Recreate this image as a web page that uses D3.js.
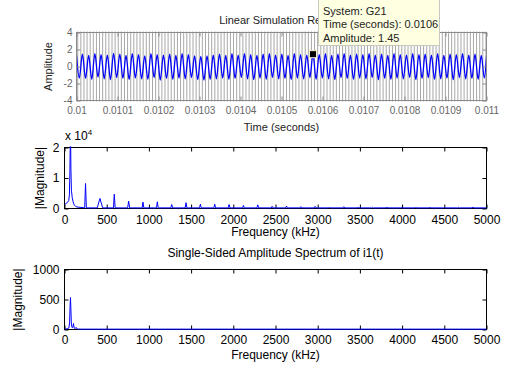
<!DOCTYPE html>
<html>
<head>
<meta charset="utf-8">
<script src="https://cdn.jsdelivr.net/npm/d3@7"></script>
<style>
  body { margin: 0; background: #fff; }
  svg { display: block; }
  text { font-family: "Liberation Sans", Arial, Helvetica, sans-serif; }
</style>
</head>
<body>
<script>
// ---- top panel: lsim response (time in s, input edges in µs after 0.01 s)
const timeTicks = [0.01, 0.0101, 0.0102, 0.0103, 0.0104, 0.0105, 0.0106, 0.0107, 0.0108, 0.0109, 0.011];
const ampTicks = [-4, -2, 0, 2, 4];

const inputEdgesUs = [
  3.0, 10.6, 18.2, 25.8, 33.4, 41.0, 48.6, 56.2, 63.8, 71.4, 79.0, 86.6, 94.2, 101.8, 109.4, 117.0,
  124.6, 132.2, 139.8, 147.4, 155.0, 162.6, 170.2, 177.8, 185.4, 193.0, 200.6, 208.2, 215.8, 223.4,
  231.0, 238.6, 246.2, 253.8, 261.4, 269.0, 276.6, 284.2, 291.8, 299.4, 307.0, 314.6, 322.2, 329.8,
  337.4, 345.0, 352.6, 360.2, 367.8, 375.4, 383.0, 390.6, 398.2, 405.8, 413.4, 421.0, 428.6, 436.2,
  443.8, 451.4, 459.0, 466.6, 474.2, 481.8, 489.4, 497.0, 504.6, 512.2, 519.8, 527.4, 535.0, 542.6,
  550.2, 557.8, 565.4, 573.0, 580.6, 588.2, 595.8, 603.4, 611.0, 618.6, 626.2, 633.8, 641.4, 649.0,
  656.6, 664.2, 671.8, 679.4, 687.0, 694.6, 702.2, 709.8, 717.4, 725.0, 732.6, 740.2, 747.8, 755.4,
  763.0, 770.6, 778.2, 785.8, 793.4, 801.0, 808.6, 816.2, 823.8, 831.4, 839.0, 846.6, 854.2, 861.8,
  869.4, 877.0, 884.6, 892.2, 899.8, 907.4, 915.0, 922.6, 930.2, 937.8, 945.4, 953.0, 960.6, 968.2,
  975.8, 983.4, 991.0, 998.6
];
const inputLevel = 20; // square wave swings far outside the axes

// peak / trough of the output between consecutive input edges
const outputSwing = [
  -1.35, 1.45, -1.40, 1.30, -1.50, 1.50, -1.25, 1.40, -1.45, 1.35,
  -1.55, 1.55, -1.30, 1.45, -1.40, 1.30, -1.55, 1.50, -1.35, 1.40,
  -1.45, 1.25, -1.50, 1.50, -1.30, 1.40, -1.60, 1.35, -1.40, 1.45,
  -1.50, 1.30, -1.35, 1.50, -1.45, 1.40, -1.30, 1.25, -1.55, 1.20,
  -1.60, 1.25, -1.50, 1.35, -1.45, 1.45, -1.35, 1.30, -1.50, 1.50,
  -1.40, 1.35, -1.30, 1.50, -1.45, 1.40, -1.55, 1.30, -1.35, 1.45,
  -1.50, 1.50, -1.30, 1.35, -1.45, 1.45, -1.40, 1.30, -1.55, 1.50,
  -1.35, 1.40, -1.45, 1.35, -1.30, 1.45, -1.50, 1.40, -1.35, 1.50,
  -1.45, 1.30, -1.55, 1.45, -1.30, 1.50, -1.40, 1.35, -1.50, 1.45,
  -1.35, 1.40, -1.45, 1.50, -1.30, 1.35, -1.55, 1.45, -1.40, 1.30,
  -1.50, 1.50, -1.35, 1.40, -1.45, 1.35, -1.30, 1.50, -1.55, 1.40,
  -1.40, 1.45, -1.30, 1.35, -1.50, 1.50, -1.45, 1.30, -1.35, 1.45,
  -1.55, 1.40, -1.30, 1.50, -1.45, 1.35, -1.40, 1.45, -1.50, 1.30,
  -1.35
];
const outputEnds = [1.3, 1.2];

const markerTime = 0.0105768;
const markerAmp = 1.45;
const tipLines = ["System: G21", "Time (seconds): 0.0106", "Amplitude: 1.45"];

// ---- spectra (kHz)
const freqTicks = [0, 500, 1000, 1500, 2000, 2500, 3000, 3500, 4000, 4500, 5000];

// middle panel, magnitude in units of 1e4
const spec1Ticks = [0, 1, 2];
const spec1LowKHz = [0, 15, 35, 50, 58, 64, 71, 76, 82, 92, 102, 115, 135, 170, 220];
const spec1LowMag = [0.14, 0.16, 0.2, 0.26, 0.45, 1.2, 2.8, 1.3, 0.6, 0.35, 0.22, 0.12, 0.06, 0.04, 0.03];
const harmonicKHz = [249, 420, 590, 760, 930, 1100, 1270, 1440, 1610, 1780, 1950, 2120, 2290, 2460,
  2630, 2800, 2970, 3140, 3310, 3480, 3650, 3820, 3990, 4160, 4330, 4500, 4670, 4840];
const harmonicMag = [0.82, 0.33, 0.47, 0.24, 0.21, 0.22, 0.13, 0.19, 0.14, 0.14, 0.13, 0.10, 0.12, 0.07,
  0.08, 0.06, 0.07, 0.05, 0.06, 0.05, 0.04, 0.05, 0.04, 0.05, 0.04, 0.04, 0.04, 0.05];
const harmonicHalfWidth = [10, 32, 10, 12, 10, 10, 10, 10, 10, 10, 10, 10, 10, 10,
  10, 10, 10, 10, 10, 10, 10, 10, 10, 10, 10, 10, 10, 10];
const spec1Floor = 0.02;

// bottom panel
const spec2Ticks = [0, 500, 1000];
const spec2KHz = [0, 20, 40, 52, 60, 66, 71, 76, 81, 88, 96, 102, 107, 112, 120, 130, 138, 143, 150, 165, 200, 5000];
const spec2Mag = [6, 10, 15, 25, 110, 380, 533, 330, 110, 35, 30, 60, 100, 45, 15, 20, 35, 20, 10, 8, 6, 6];

const W = 509, H = 370;
const svg = d3.select("body").append("svg").attr("width", W).attr("height", H);

const p1 = { l: 76.5, r: 486.5, t: 32.5, b: 100.5 };
const p2 = { l: 64.5, r: 486.5, t: 147.5, b: 208.5 };
const p3 = { l: 64.5, r: 486.5, t: 269.5, b: 329.5 };

function clip(id, p) {
  svg.append("clipPath").attr("id", id)
    .append("rect").attr("x", p.l).attr("y", p.t - 1)
    .attr("width", p.r - p.l).attr("height", p.b - p.t + 2);
  return `url(#${id})`;
}

// box with inward ticks on all sides, labels on bottom and left
function frame(p, x, y, xt, yt, o) {
  const g = svg.append("g");
  const style = (sel) => {
    sel.select(".domain").remove();
    sel.selectAll("line").attr("stroke", o.axis);
    sel.selectAll("text").attr("fill", o.label).attr("font-size", o.fs)
      .attr("font-family", '"Liberation Sans", Arial, sans-serif');
  };
  g.append("g").attr("transform", `translate(0,${p.b})`)
    .call(d3.axisBottom(x).tickValues(xt).tickSize(-4).tickSizeOuter(0).tickPadding(o.padX).tickFormat(o.fmtX))
    .call(style);
  g.append("g").attr("transform", `translate(0,${p.t})`)
    .call(d3.axisTop(x).tickValues(xt).tickSize(-4).tickSizeOuter(0).tickFormat(""))
    .call(style);
  g.append("g").attr("transform", `translate(${p.l},0)`)
    .call(d3.axisLeft(y).tickValues(yt).tickSize(-4).tickSizeOuter(0).tickPadding(o.padY).tickFormat((d) => String(d)))
    .call(style);
  g.append("g").attr("transform", `translate(${p.r},0)`)
    .call(d3.axisRight(y).tickValues(yt).tickSize(-4).tickSizeOuter(0).tickFormat(""))
    .call(style);
  g.append("rect").attr("x", p.l).attr("y", p.t).attr("width", p.r - p.l).attr("height", p.b - p.t)
    .attr("fill", "none").attr("stroke", o.axis).attr("stroke-width", 1);
  return g;
}

// ---------- panel 1
const x1 = d3.scaleLinear().domain([0.01, 0.011]).range([p1.l, p1.r]);
const y1 = d3.scaleLinear().domain([-4, 4]).range([p1.b, p1.t]);
const toT = (us) => 0.01 + us * 1e-6;

const inputPts = [[0.01, -inputLevel]].concat(
  inputEdgesUs.map((e, i) => [toT(e), i % 2 === 0 ? inputLevel : -inputLevel])
);
inputPts.push([0.011, inputPts[inputPts.length - 1][1]]);

const outputPts = [[0.01, outputEnds[0]]];
outputSwing.forEach((v, i) => {
  outputPts.push([toT((inputEdgesUs[i] + inputEdgesUs[i + 1]) / 2), v]);
});
outputPts.push([0.011, outputEnds[1]]);

const c1 = clip("c1", p1);
svg.append("path")
  .attr("clip-path", c1)
  .attr("fill", "none").attr("stroke", "#a8a8a8").attr("stroke-width", 1)
  .attr("d", d3.line().x((d) => x1(d[0])).y((d) => y1(d[1])).curve(d3.curveStepAfter)(inputPts));

svg.append("path")
  .attr("clip-path", c1)
  .attr("fill", "none").attr("stroke", "#0000ff").attr("stroke-width", 1.3)
  .attr("d", d3.line().x((d) => x1(d[0])).y((d) => y1(d[1])).curve(d3.curveMonotoneX)(outputPts));

frame(p1, x1, y1, timeTicks, ampTicks, {
  axis: "#8a8a8a", label: "#666", fs: 10, padX: 6, padY: 4,
  fmtX: (d) => String(+d.toFixed(4)),
});

svg.append("text").attr("x", (p1.l + p1.r) / 2).attr("y", 24).attr("text-anchor", "middle")
  .attr("font-size", 11).attr("fill", "#222").text("Linear Simulation Results");
svg.append("text").attr("x", (p1.l + p1.r) / 2).attr("y", 131).attr("text-anchor", "middle")
  .attr("font-size", 11).attr("fill", "#222").text("Time (seconds)");
svg.append("text").attr("transform", `translate(52,${(p1.t + p1.b) / 2}) rotate(-90)`)
  .attr("text-anchor", "middle").attr("font-size", 11).attr("fill", "#222").text("Amplitude");

// data tip
svg.append("rect").attr("x", x1(markerTime) - 3.5).attr("y", y1(markerAmp) - 3.5)
  .attr("width", 7).attr("height", 7).attr("fill", "#000").attr("stroke", "#f4f2c8").attr("stroke-width", 1);
svg.append("rect").attr("x", 318.5).attr("y", -0.5).attr("width", 121).attr("height", 46)
  .attr("fill", "#ffffe1").attr("stroke", "#c8c8c0");
svg.append("g").selectAll("text").data(tipLines).join("text")
  .attr("x", 323).attr("y", (d, i) => 14.5 + i * 13.5)
  .attr("font-size", 11).attr("fill", "#222").text((d) => d);

// ---------- panel 2
const x2 = d3.scaleLinear().domain([0, 5000]).range([p2.l, p2.r]);
const y2 = d3.scaleLinear().domain([0, 2]).range([p2.b, p2.t]);

const spec1Pts = spec1LowKHz.map((f, i) => [f, spec1LowMag[i]]);
harmonicKHz.forEach((f, i) => {
  spec1Pts.push([f - harmonicHalfWidth[i], spec1Floor], [f, harmonicMag[i]], [f + harmonicHalfWidth[i], spec1Floor]);
});
spec1Pts.push([5000, spec1Floor]);

frame(p2, x2, y2, freqTicks, spec1Ticks, { axis: "#000", label: "#000", fs: 12, padX: 6.5, padY: 5, fmtX: (d) => String(d) });

svg.append("path")
  .attr("clip-path", clip("c2", p2))
  .attr("fill", "none").attr("stroke", "#0000ff").attr("stroke-width", 1)
  .attr("d", d3.line().x((d) => x2(d[0])).y((d) => y2(d[1]))(spec1Pts));

const exp = svg.append("text").attr("x", 65).attr("y", 140).attr("font-size", 12).attr("fill", "#000");
exp.append("tspan").text("x 10");
exp.append("tspan").attr("dy", -5).attr("font-size", 8).text("4");

svg.append("text").attr("x", (p2.l + p2.r) / 2).attr("y", 236).attr("text-anchor", "middle")
  .attr("font-size", 12).attr("fill", "#000").text("Frequency (kHz)");
svg.append("text").attr("transform", `translate(44,${(p2.t + p2.b) / 2}) rotate(-90)`)
  .attr("text-anchor", "middle").attr("font-size", 12).attr("fill", "#000").text("|Magnitude|");

// ---------- panel 3
const x3 = d3.scaleLinear().domain([0, 5000]).range([p3.l, p3.r]);
const y3 = d3.scaleLinear().domain([0, 1000]).range([p3.b, p3.t]);

frame(p3, x3, y3, freqTicks, spec2Ticks, { axis: "#000", label: "#000", fs: 12, padX: 6, padY: 5, fmtX: (d) => String(d) });

svg.append("path")
  .attr("clip-path", clip("c3", p3))
  .attr("fill", "none").attr("stroke", "#0000ff").attr("stroke-width", 1)
  .attr("d", d3.line().x((d, i) => x3(d)).y((d, i) => y3(spec2Mag[i]))(spec2KHz));

svg.append("text").attr("x", (p3.l + p3.r) / 2).attr("y", 257).attr("text-anchor", "middle")
  .attr("font-size", 12).attr("fill", "#000").text("Single-Sided Amplitude Spectrum of i1(t)");
svg.append("text").attr("x", (p3.l + p3.r) / 2).attr("y", 359).attr("text-anchor", "middle")
  .attr("font-size", 12).attr("fill", "#000").text("Frequency (kHz)");
svg.append("text").attr("transform", `translate(22,${(p3.t + p3.b) / 2}) rotate(-90)`)
  .attr("text-anchor", "middle").attr("font-size", 12).attr("fill", "#000").text("|Magnitude|");
</script>
</body>
</html>
